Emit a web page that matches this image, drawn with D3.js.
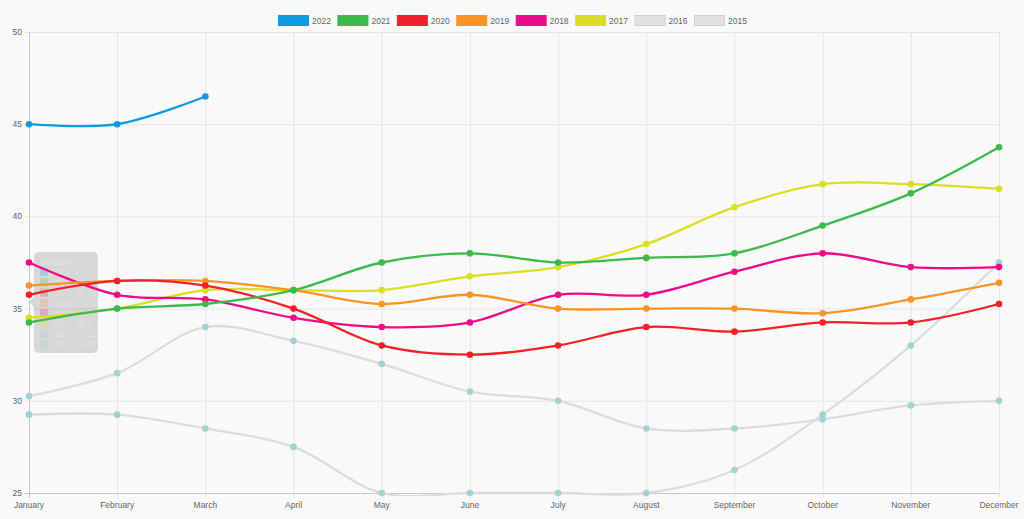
<!DOCTYPE html>
<html>
<head>
<meta charset="utf-8">
<script src="https://cdnjs.cloudflare.com/ajax/libs/d3/7.8.5/d3.min.js"></script>
<style>
  body { margin: 0; background: #f9f9f9; }
  svg { display: block; font-family: "Liberation Sans", Arial, sans-serif; }
</style>
</head>
<body>
<script>
const months = ['January', 'February', 'March', 'April', 'May', 'June', 'July',
  'August', 'September', 'October', 'November', 'December'];
const yTicks = [25, 30, 35, 40, 45, 50];

const years = ['2022', '2021', '2020', '2019', '2018', '2017', '2016', '2015'];
const lineColors = ['#0e9be0', '#3cba4c', '#f02127', '#fb9426', '#ec0c8a', '#dadf25', '#dcdcdc', '#dcdcdc'];
const pointColors = ['#0e9be0', '#3cba4c', '#f02127', '#fb9426', '#ec0c8a', '#dadf25', '#9fd3d4', '#9fd3d4'];

const v2022 = [45, 45, 46.5];
const v2021 = [34.25, 35, 35.25, 36, 37.5, 38, 37.5, 37.75, 38, 39.5, 41.25, 43.75];
const v2020 = [35.75, 36.5, 36.25, 35, 33, 32.5, 33, 34, 33.75, 34.25, 34.25, 35.25];
const v2019 = [36.25, 36.5, 36.5, 36, 35.25, 35.75, 35, 35, 35, 34.75, 35.5, 36.4];
const v2018 = [37.5, 35.75, 35.5, 34.5, 34, 34.25, 35.75, 35.75, 37, 38, 37.25, 37.25];
const v2017 = [34.5, 35, 36, 36, 36, 36.75, 37.25, 38.5, 40.5, 41.75, 41.75, 41.5];
const v2016 = [29.25, 29.25, 28.5, 27.5, 25, 25, 25, 25, 26.25, 29.25, 33, 37.5];
const v2015 = [30.25, 31.5, 34, 33.25, 32, 30.5, 30, 28.5, 28.5, 29, 29.75, 30];
const series = [v2022, v2021, v2020, v2019, v2018, v2017, v2016, v2015];

const W = 1024, H = 519;
const m = { left: 29, right: 25, top: 32, bottom: 26 };

let svg = d3.select('body')
  .append('svg')
  .attr('width', W)
  .attr('height', H);

svg.append('rect').attr('width', W).attr('height', H).attr('fill', '#f9f9f9');

let x = d3.scalePoint().domain(months).range([m.left, W - m.right]);
let y = d3.scaleLinear().domain([25, 50]).range([H - m.bottom, m.top]);

// grid
let grid = svg.append('g');
grid.selectAll('.hg')
  .data(yTicks)
  .enter().append('line')
  .attr('x1', m.left - 5).attr('x2', W - m.right)
  .attr('y1', (d) => y(d) + 0.5).attr('y2', (d) => y(d) + 0.5)
  .attr('stroke', '#e6e6e6');
grid.selectAll('.vg')
  .data(months)
  .enter().append('line')
  .attr('x1', (d) => x(d) + 0.5).attr('x2', (d) => x(d) + 0.5)
  .attr('y1', m.top).attr('y2', H - m.bottom + 5)
  .attr('stroke', '#e6e6e6');

// axes lines
svg.append('line')
  .attr('x1', m.left + 0.5).attr('x2', m.left + 0.5)
  .attr('y1', m.top).attr('y2', H - m.bottom + 5)
  .attr('stroke', '#c8c8c8');
svg.append('line')
  .attr('x1', m.left - 5).attr('x2', W - m.right)
  .attr('y1', H - m.bottom + 0.5).attr('y2', H - m.bottom + 0.5)
  .attr('stroke', '#c8c8c8');

// tick labels
svg.append('g').selectAll('text')
  .data(yTicks)
  .enter().append('text')
  .attr('x', m.left - 7)
  .attr('y', (d) => y(d) + 3)
  .attr('text-anchor', 'end')
  .attr('font-size', 8.5)
  .attr('fill', '#666')
  .text((d) => d);

svg.append('g').selectAll('text')
  .data(months)
  .enter().append('text')
  .attr('x', (d) => x(d))
  .attr('y', H - m.bottom + 15)
  .attr('text-anchor', 'middle')
  .attr('font-size', 8.5)
  .attr('fill', '#666')
  .text((d) => d);

// legend
let legend = svg.append('g');
let lx = 278;
years.forEach((yr, i) => {
  let item = legend.append('g').attr('transform', `translate(${lx}, 15)`);
  item.append('rect')
    .attr('x', 0.5).attr('y', 0.5)
    .attr('width', 30).attr('height', 10)
    .attr('fill', i >= 6 ? '#e2e2e2' : lineColors[i])
    .attr('stroke', i >= 6 ? '#d0d0d0' : lineColors[i]);
  let t = item.append('text')
    .attr('x', 34).attr('y', 8.5)
    .attr('font-size', 8.5)
    .attr('fill', '#666')
    .text(yr);
  lx += 34 + t.node().getComputedTextLength() + 6.5;
});

// clip (chart area plus a little room for the line width)
svg.append('clipPath').attr('id', 'area')
  .append('rect')
  .attr('x', m.left - 3).attr('y', m.top - 3)
  .attr('width', W - m.left - m.right + 6).attr('height', H - m.top - m.bottom + 6);

let line = d3.line()
  .x((d, i) => x(months[i]))
  .y((d) => y(d))
  .curve(d3.curveCatmullRom.alpha(0.5));

// fading tooltip for January (drawn under the lines, it is almost gone)
let tip = svg.append('g').attr('opacity', 0.13);
tip.append('rect')
  .attr('x', 34).attr('y', 252)
  .attr('width', 64).attr('height', 101)
  .attr('rx', 5)
  .attr('fill', '#000');
tip.append('path')
  .attr('d', 'M34,297 L29,302 L34,307 Z')
  .attr('fill', '#000');
let tipText = svg.append('g').attr('opacity', 0.22);
tipText.append('text')
  .attr('x', 40).attr('y', 265)
  .attr('font-size', 8.5).attr('font-weight', 'bold')
  .attr('fill', '#fff')
  .text(months[0]);
years.forEach((yr, i) => {
  let ty = 275 + i * 10.3;
  tipText.append('rect')
    .attr('x', 40).attr('y', ty - 7)
    .attr('width', 8).attr('height', 8)
    .attr('fill', pointColors[i]);
  tipText.append('text')
    .attr('x', 51).attr('y', ty)
    .attr('font-size', 8.5)
    .attr('fill', '#fff')
    .text(`${yr}: ${series[i][0]}`);
});

let plot = svg.append('g');
// draw last dataset first so 2022 ends on top
for (let i = series.length - 1; i >= 0; i--) {
  let g = plot.append('g');
  g.append('path')
    .attr('d', line(series[i]))
    .attr('clip-path', 'url(#area)')
    .attr('fill', 'none')
    .attr('stroke', lineColors[i])
    .attr('stroke-width', 2.3);
  g.selectAll('circle')
    .data(series[i])
    .enter().append('circle')
    .attr('cx', (d, j) => x(months[j]))
    .attr('cy', (d) => y(d))
    .attr('r', 3.3)
    .attr('fill', pointColors[i]);
}
</script>
</body>
</html>
